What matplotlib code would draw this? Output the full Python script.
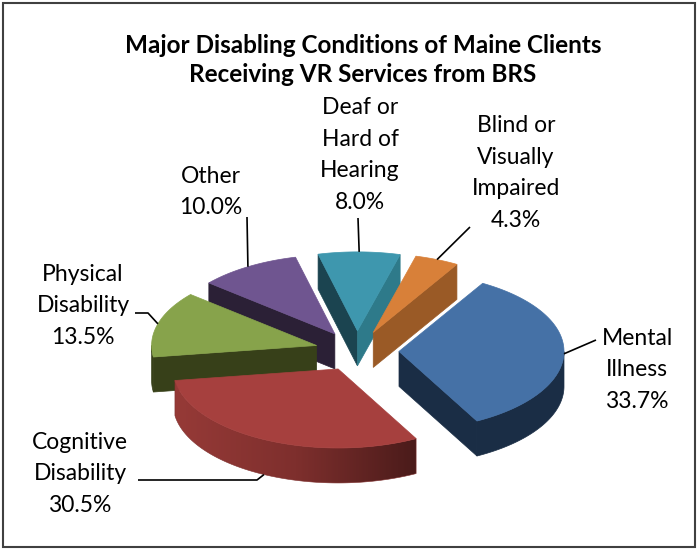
import numpy as np
import matplotlib
matplotlib.use("Agg")
import matplotlib.pyplot as plt
from matplotlib.patches import Polygon, Rectangle
from matplotlib.colors import to_rgb, LinearSegmentedColormap

# ---------------- data ----------------
categories = ["Blind or\nVisually\nImpaired", "Mental\nIllness", "Cognitive\nDisability",
              "Physical\nDisability", "Other", "Deaf or\nHard of\nHearing"]
values = [4.3, 33.7, 30.5, 13.5, 10.0, 8.0]
title = "Major Disabling Conditions of Maine Clients\nReceiving VR Services from BRS"

# ---------------- style ----------------
top_colors = ["#D88039", "#4571A6", "#A6403E", "#87A34B", "#6F5590", "#3E97AE"]
wall_colors = ["#9A5A26", "#1A2D45", None, "#374019", "#2B2036", "#1B4450"]
wall_gradient = {2: ["#963A37", "#7E2F2D", "#4A1B1A"]}
face1_colors = ["#9A5A26", "#1A2D45", "#7A2E2C", "#374019", "#2B2036", "#1B4450"]
face2_colors = ["#9A5A26", "#1A2D45", "#7A2E2C", "#374019", "#2B2036", "#2E7A8A"]
label_pos = [(516, 173), (637, 370), (80, 474), (83, 306), (211, 192), (360, 155)]
leader_start = [[(470, 227)], [(596, 340)], [(138, 480), (257, 480)],
                [(135, 313), (148, 313)], [(247, 217)], [(358, 218)]]

W, H = 698, 550
fig = plt.figure(figsize=(W / 100, H / 100), dpi=100)
ax = fig.add_axes([0, 0, 1, 1])
ax.axis("off")

plt.rcParams["font.family"] = ["Lato", "DejaVu Sans"]

cx, cy = 357, 351
rx, ry, depth = 165, 79, 35
explode = 42
start = 75.0

vals = np.array(values, dtype=float)
angles = vals / vals.sum() * 360.0
theta1 = start - np.concatenate([[0], np.cumsum(angles)[:-1]])
theta2 = theta1 - angles
mids = (theta1 + theta2) / 2


def offset(i):
    m = np.radians(mids[i])
    return explode * np.cos(m), -explode * (ry / rx) * np.sin(m)


def pt(i, th_deg, r=1.0, z=0.0):
    dx, dy = offset(i)
    t = np.radians(th_deg)
    return (cx + dx + r * rx * np.cos(t), cy + dy - r * ry * np.sin(t) + z)


order = np.argsort([offset(i)[1] for i in range(len(vals))])

for i in order:
    t1, t2 = theta1[i], theta2[i]
    # radial faces
    if np.cos(np.radians(t1)) < 0:
        poly = [pt(i, t1, 0), pt(i, t1, 1), pt(i, t1, 1, depth), pt(i, t1, 0, depth)]
        ax.add_patch(Polygon(poly, closed=True, fc=face1_colors[i], ec=face1_colors[i], lw=0.5))
    if np.cos(np.radians(t2)) > 0:
        poly = [pt(i, t2, 0), pt(i, t2, 1), pt(i, t2, 1, depth), pt(i, t2, 0, depth)]
        ax.add_patch(Polygon(poly, closed=True, fc=face2_colors[i], ec=face2_colors[i], lw=0.5))
    # outer wall (front-facing part only)
    ths = np.linspace(t1, t2, 721)
    vis = ths[np.sin(np.radians(ths)) < 0]
    if len(vis) > 1:
        topp = [pt(i, t) for t in vis]
        botp = [pt(i, t, 1, depth) for t in vis[::-1]]
        wall = topp + botp
        if i in wall_gradient:
            wp = Polygon(wall, closed=True, fc="none", ec="none")
            ax.add_patch(wp)
            xs = [p[0] for p in wall]
            ys = [p[1] for p in wall]
            cmap = LinearSegmentedColormap.from_list("g", wall_gradient[i])
            grad = np.linspace(0, 1, 256).reshape(1, -1)
            im = ax.imshow(grad, cmap=cmap, aspect="auto", interpolation="bilinear",
                           extent=[min(xs), max(xs), max(ys), min(ys)], zorder=1)
            im.set_clip_path(wp)
            edge = Polygon(wall, closed=True, fc="none", ec=wall_gradient[i][1], lw=0.4, zorder=1)
            ax.add_patch(edge)
        else:
            ax.add_patch(Polygon(wall, closed=True, fc=wall_colors[i], ec=wall_colors[i], lw=0.5))
    # top
    arc = [pt(i, t) for t in np.linspace(t1, t2, 200)]
    poly = [pt(i, t1, 0)] + arc
    ax.add_patch(Polygon(poly, closed=True, fc=top_colors[i], ec=top_colors[i], lw=0.5, zorder=1))

ax.set_xlim(0, W)
ax.set_ylim(H, 0)

# labels and leader lines
for i in range(len(vals)):
    m = mids[i]
    zf = depth * min(1.0, 1.2 * max(0.0, -np.sin(np.radians(m))))
    end = pt(i, m, 1, zf)
    pts = leader_start[i] + [end]
    xs, ys = zip(*pts)
    ax.plot(xs, ys, color="black", lw=1.2, solid_capstyle="butt", zorder=3)
    ax.text(label_pos[i][0], label_pos[i][1], f"{categories[i]}\n{values[i]:.1f}%",
            ha="center", va="center", fontsize=16.5, linespacing=1.62, color="black")

ax.text(363, 60, title, ha="center", va="center", fontsize=17.5, fontweight="bold",
        linespacing=1.32, color="black")

ax.add_patch(Rectangle((3, 3), W - 6, H - 6, fill=False, ec="#404040", lw=1.5, zorder=4))

fig.savefig("out.png", dpi=100)
